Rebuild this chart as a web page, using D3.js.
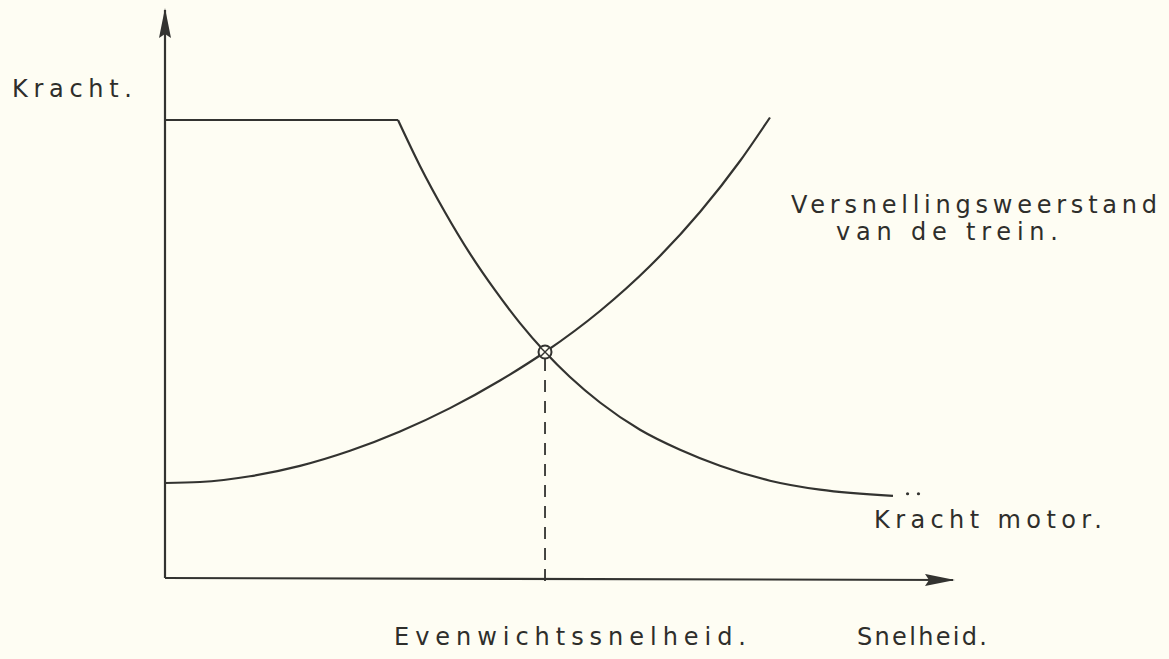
<!DOCTYPE html>
<html>
<head>
<meta charset="utf-8">
<script src="https://cdn.jsdelivr.net/npm/d3@7"></script>
<style>
  html, body { margin: 0; padding: 0; background: #fefdf3; }
  svg { display: block; }
  text { font-family: "DejaVu Sans", sans-serif; fill: #2e2e2b; }
</style>
</head>
<body>
<svg id="chart" width="1169" height="659"></svg>
<script>
// Trekkracht van de motor: constant tot het knikpunt, daarna dalend
const motorFlatX = [0, 29.87];
const motorFlatY = [88.08, 88.08];
const motorX = [29.87, 32.69, 35.90, 39.10, 42.31, 45.51, 48.72, 51.92, 55.77, 60.90, 66.03, 71.15, 77.56, 83.97, 93.33];
const motorY = [88.08, 79.25, 70.35, 62.38, 55.35, 49.02, 43.46, 38.65, 33.75, 28.52, 24.67, 21.60, 18.71, 16.98, 15.79];
const trailX = [95.2, 96.6];
const trailY = [16.2, 16.2];

// Versnellingsweerstand van de trein, stijgend met de snelheid
const resistX = [0, 4.49, 10.90, 17.31, 23.72, 30.13, 36.54, 42.95, 48.72, 55.77, 62.18, 68.59, 73.72, 77.56];
const resistY = [18.27, 18.46, 19.56, 21.56, 24.46, 28.17, 32.67, 37.98, 43.46, 51.35, 60.00, 70.38, 80.19, 88.56];

// Evenwichtspunt
const equilibrium = { x: 48.72, y: 43.46 };

const labels = {
  yAxis: "Kracht.",
  xAxis: "Snelheid.",
  equilibrium: "Evenwichtssnelheid.",
  resist1: "Versnellingsweerstand",
  resist2: "van de trein.",
  motor: "Kracht motor."
};

const svg = d3.select("#chart");
const ink = "#333330";

const x = d3.scaleLinear().domain([0, 100]).range([165, 945]);
const y = d3.scaleLinear().domain([0, 100]).range([578, 58]);

// Assen met pijlpunten
const defs = svg.append("defs");
defs.append("marker")
  .attr("id", "arrow")
  .attr("viewBox", "0 0 30 12")
  .attr("refX", 28).attr("refY", 6)
  .attr("markerWidth", 30).attr("markerHeight", 12)
  .attr("markerUnits", "userSpaceOnUse")
  .attr("orient", "auto")
  .append("path")
  .attr("d", "M0,0 L30,6 L0,12 L4,6 Z")
  .attr("fill", ink);

svg.append("line")
  .attr("x1", x(0)).attr("y1", y(0))
  .attr("x2", x(0)).attr("y2", y(0) - 568)
  .attr("stroke", ink).attr("stroke-width", 2.2)
  .attr("marker-end", "url(#arrow)");

svg.append("line")
  .attr("x1", x(0)).attr("y1", y(0))
  .attr("x2", x(100) + 8).attr("y2", y(0) + 2)
  .attr("stroke", ink).attr("stroke-width", 2.2)
  .attr("marker-end", "url(#arrow)");

const zip = (xs, ys) => xs.map((v, i) => [v, ys[i]]);

// Kracht motor
svg.append("path")
  .datum(zip(motorFlatX, motorFlatY))
  .attr("d", d3.line().x(d => x(d[0])).y(d => y(d[1])))
  .attr("fill", "none").attr("stroke", ink).attr("stroke-width", 2.2);

svg.append("path")
  .datum(zip(motorX, motorY))
  .attr("d", d3.line().curve(d3.curveMonotoneX).x(d => x(d[0])).y(d => y(d[1])))
  .attr("fill", "none").attr("stroke", ink).attr("stroke-width", 2.2);

svg.selectAll("circle.trail")
  .data(zip(trailX, trailY))
  .join("circle")
  .attr("class", "trail")
  .attr("cx", d => x(d[0])).attr("cy", d => y(d[1]))
  .attr("r", 1.6).attr("fill", ink);

// Versnellingsweerstand
svg.append("path")
  .datum(zip(resistX, resistY))
  .attr("d", d3.line().curve(d3.curveMonotoneX).x(d => x(d[0])).y(d => y(d[1])))
  .attr("fill", "none").attr("stroke", ink).attr("stroke-width", 2.2);

// Loodlijn naar de evenwichtssnelheid
svg.append("line")
  .attr("x1", x(equilibrium.x)).attr("y1", y(equilibrium.y) + 7)
  .attr("x2", x(equilibrium.x)).attr("y2", y(0) + 8)
  .attr("stroke", ink).attr("stroke-width", 1.8)
  .attr("stroke-dasharray", "12,9");

// Omcirkeld snijpunt
const ex = x(equilibrium.x), ey = y(equilibrium.y);
svg.append("circle")
  .attr("cx", ex).attr("cy", ey).attr("r", 6.5)
  .attr("fill", "#fefdf3").attr("stroke", ink).attr("stroke-width", 2);
svg.append("path")
  .attr("d", `M${ex - 4},${ey - 4}L${ex + 4},${ey + 4}M${ex + 4},${ey - 4}L${ex - 4},${ey + 4}`)
  .attr("stroke", ink).attr("stroke-width", 1.4);

// Teksten
function label(txt, px, py, len) {
  svg.append("text")
    .attr("x", px).attr("y", py)
    .attr("font-size", 24)
    .attr("textLength", len)
    .attr("lengthAdjust", "spacing")
    .text(txt);
}
label(labels.yAxis, 12, 97, 120);
label(labels.resist1, 791, 213, 366);
label(labels.resist2, 836, 240, 222);
label(labels.motor, 874, 528, 228);
label(labels.equilibrium, 394, 645, 352);
label(labels.xAxis, 857, 645, 130);
</script>
</body>
</html>
